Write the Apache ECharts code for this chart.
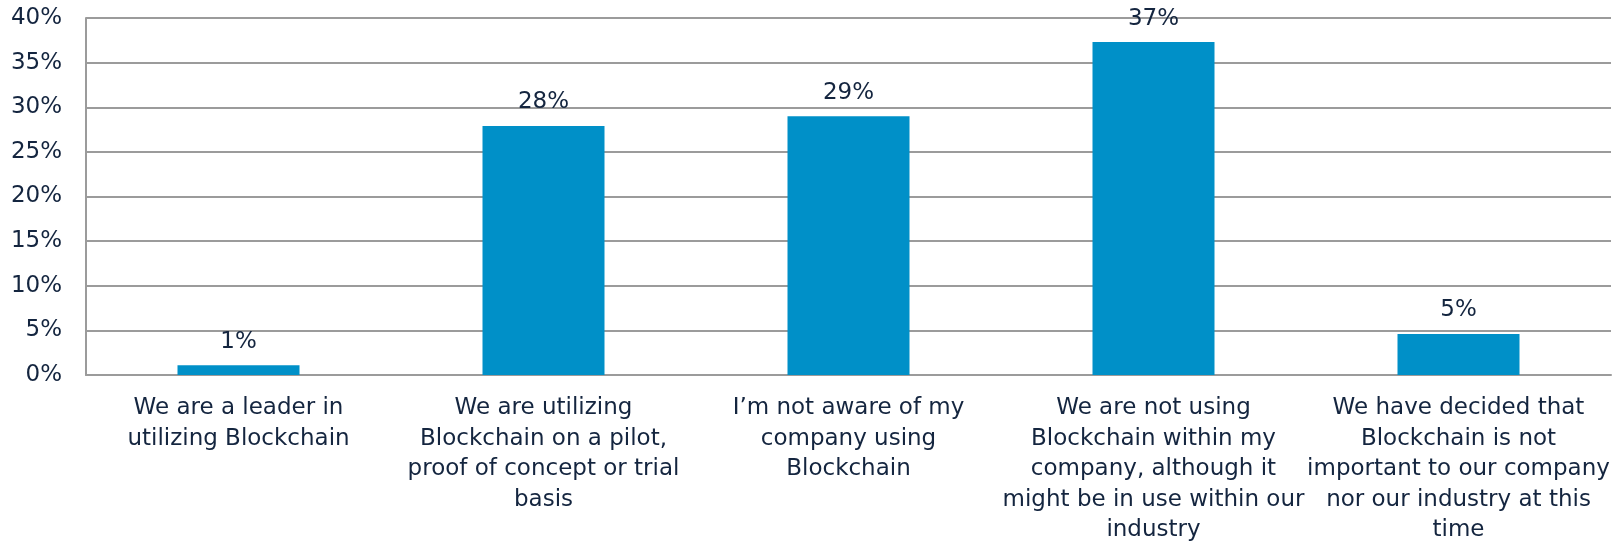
<!DOCTYPE html>
<html>
<head>
<meta charset="utf-8">
<script src="https://cdn.jsdelivr.net/npm/echarts@6/dist/echarts.min.js"></script>
<style>html,body{margin:0;padding:0;background:#fff}#c{width:1612px;height:541px}</style>
</head>
<body>
<div id="c"></div>
<script>
const categories = [
  "We are a leader in\nutilizing Blockchain",
  "We are utilizing\nBlockchain on a pilot,\nproof of concept or trial\nbasis",
  "I\u2019m not aware of my\ncompany using\nBlockchain",
  "We are not using\nBlockchain within my\ncompany, although it\nmight be in use within our\nindustry",
  "We have decided that\nBlockchain is not\nimportant to our company\nnor our industry at this\ntime"
];
const values = [1.1, 27.9, 29.0, 37.3, 4.6];
const valueLabels = ["1%", "28%", "29%", "37%", "5%"];

const textColor = "#14253f";
const gridColor = "#9b9b9b";
const font = 'DejaVu Sans, Arial, sans-serif';
const chart = echarts.init(document.getElementById('c'));
chart.setOption({
  animation: false,
  grid: { left: 86, right: 1, top: 18, bottom: 166, containLabel: false, outerBoundsMode: 'none' },
  xAxis: {
    type: 'category',
    data: categories,
    axisTick: { show: false },
    axisLine: { lineStyle: { color: gridColor, width: 2 } },
    axisLabel: {
      interval: 0,
      color: textColor,
      fontFamily: font,
      fontSize: 23,
      lineHeight: 30.5,
      margin: 18
    }
  },
  yAxis: {
    type: 'value',
    min: 0, max: 40, interval: 5,
    axisLine: { show: true, lineStyle: { color: gridColor, width: 2 } },
    axisTick: { show: false },
    splitLine: { lineStyle: { color: gridColor, width: 2 } },
    axisLabel: {
      formatter: '{value}%',
      color: textColor,
      fontFamily: font,
      fontSize: 23,
      margin: 24
    }
  },
  series: [{
    type: 'bar',
    data: values,
    barWidth: '40%',
    itemStyle: { color: '#0090c8' },
    label: {
      show: true,
      position: 'top',
      distance: 12,
      color: textColor,
      fontFamily: font,
      fontSize: 23,
      formatter: p => valueLabels[p.dataIndex]
    }
  }]
});
</script>
</body>
</html>
